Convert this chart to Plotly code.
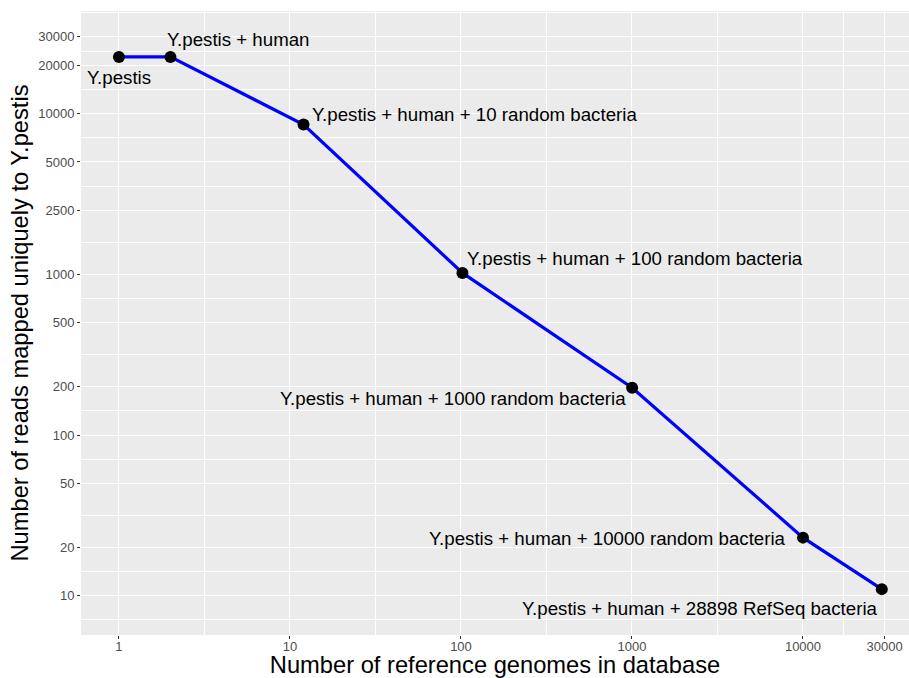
import numpy as np
import plotly.graph_objects as go

# Data
genomes = [1, 2, 12, 102, 1002, 10002, 28900]
reads = [22500, 22500, 8550, 1020, 197, 23, 11]
labels = [
    "Y.pestis",
    "Y.pestis + human",
    "Y.pestis + human + 10 random bacteria",
    "Y.pestis + human + 100 random bacteria",
    "Y.pestis + human + 1000 random bacteria",
    "Y.pestis + human + 10000 random bacteria",
    "Y.pestis + human + 28898 RefSeq bacteria",
]
x_ticks = [1, 10, 100, 1000, 10000, 30000]
y_ticks = [10, 20, 50, 100, 200, 500, 1000, 2500, 5000, 10000, 20000, 30000]

# label placement (styling)
label_anchor = ["center", "left", "left", "left", "right", "right", "right"]
label_xshift = [0, -5, 6, 3, -4, -15, -2]
label_yshift = [-21, 17, 10, 14, -11, -1, -19]

x_range = [-0.222, 4.62]
y_range = [0.756, 4.638]

FONT = "Liberation Sans, Arial, sans-serif"


def minor_breaks(ticks, rng):
    b = list(np.log10(ticks))
    bd = b[1] - b[0]
    if rng[0] < b[0]:
        b = [b[0] - bd] + b
    if rng[1] > b[-1]:
        b = b + [b[-1] + bd]
    mids = [(b[i] + b[i + 1]) / 2 for i in range(len(b) - 1)]
    return [10 ** m for m in mids if rng[0] <= m <= rng[1]]


fig = go.Figure()
fig.add_trace(go.Scatter(
    x=genomes, y=reads, mode="lines",
    line=dict(color="#0000FF", width=3.2),
    hoverinfo="skip", showlegend=False,
))
fig.add_trace(go.Scatter(
    x=genomes, y=reads, mode="markers",
    marker=dict(color="black", size=12),
    showlegend=False,
))

for gx, gy, txt, anc, xs, ys in zip(genomes, reads, labels, label_anchor, label_xshift, label_yshift):
    fig.add_annotation(
        x=np.log10(gx), y=np.log10(gy), text=txt, showarrow=False,
        xanchor=anc, yanchor="middle", xshift=xs, yshift=ys,
        font=dict(family=FONT, size=18.7, color="black"),
    )

axis_common = dict(
    type="log",
    showgrid=True, gridcolor="white", gridwidth=1.4,
    ticks="outside", ticklen=3, tickcolor="#333333", tickwidth=1,
    tickfont=dict(family=FONT, size=13, color="#4D4D4D"),
    zeroline=False, showline=False,
)

fig.update_xaxes(
    **axis_common,
    range=x_range,
    tickmode="array", tickvals=x_ticks, ticktext=[str(v) for v in x_ticks],
    ticklabelstandoff=-4,
    minor=dict(tickvals=minor_breaks(x_ticks, x_range), showgrid=True,
               gridcolor="white", gridwidth=0.7, ticks=""),
    title=dict(text="Number of reference genomes in database",
               font=dict(family=FONT, size=23.7, color="black"),
               standoff=4),
)
fig.update_yaxes(
    **axis_common,
    range=y_range,
    tickmode="array", tickvals=y_ticks, ticktext=[str(v) for v in y_ticks],
    minor=dict(tickvals=minor_breaks(y_ticks, y_range), showgrid=True,
               gridcolor="white", gridwidth=0.7, ticks=""),
    title=dict(text="Number of reads mapped uniquely to Y.pestis",
               font=dict(family=FONT, size=23.7, color="black"),
               standoff=2),
)

fig.update_layout(
    width=909, height=678,
    margin=dict(l=81, r=0, t=11, b=43, autoexpand=False),
    plot_bgcolor="#EBEBEB", paper_bgcolor="white",
    showlegend=False,
)

fig.write_html("out.html")
